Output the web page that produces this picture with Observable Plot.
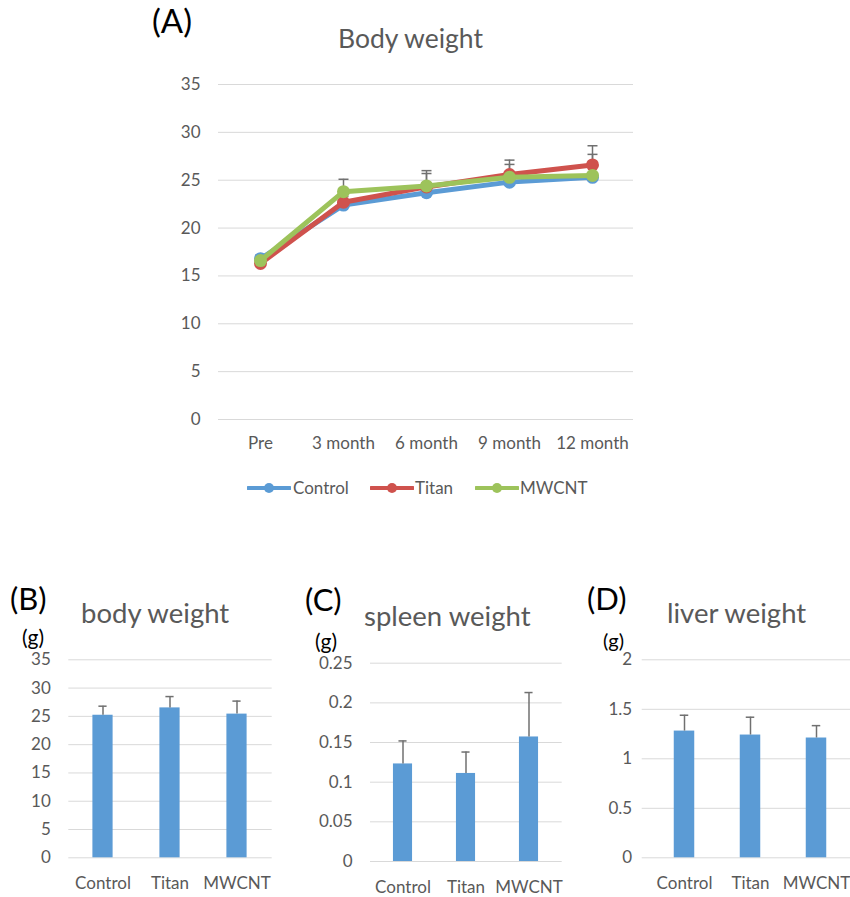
<!DOCTYPE html>
<html><head><meta charset="utf-8">
<script src="https://cdn.jsdelivr.net/npm/d3@7"></script>
<script src="https://cdn.jsdelivr.net/npm/@observablehq/plot@0.6"></script>
<style>
html,body{margin:0;padding:0;background:#fff;overflow:hidden}
#root{position:relative;width:850px;height:897px;font-family:Lato,sans-serif;color:#595959;overflow:hidden}
.abs{position:absolute;white-space:nowrap;line-height:1}
.plot{position:absolute}
</style></head><body><div id="root"></div>
<script>
// ---------- data ----------
const months = ["Pre", "3 month", "6 month", "9 month", "12 month"];
const groups = ["Control", "Titan", "MWCNT"];

// (A) body weight over time (g): mean and upper SD
const controlMean = [16.8, 22.4, 23.7, 24.8, 25.3];
const controlSD   = [0.4, 0.9, 1.0, 1.0, 1.5];
const titanMean   = [16.3, 22.7, 24.3, 25.6, 26.6];
const titanSD     = [0.5, 1.0, 1.7, 1.5, 2.0];
const mwcntMean   = [16.6, 23.8, 24.4, 25.3, 25.5];
const mwcntSD     = [0.4, 1.3, 1.3, 1.35, 2.2];
const yTicksA = [0, 5, 10, 15, 20, 25, 30, 35];

// (B) body weight (g)
const bodyMean = [25.2, 26.5, 25.4];
const bodySD   = [1.6, 2.0, 2.3];
const yTicksB  = [0, 5, 10, 15, 20, 25, 30, 35];

// (C) spleen weight (g)
const spleenMean = [0.123, 0.111, 0.157];
const spleenSD   = [0.029, 0.027, 0.056];
const yTicksC    = [0, 0.05, 0.1, 0.15, 0.2, 0.25];

// (D) liver weight (g)
const liverMean = [1.28, 1.24, 1.21];
const liverSD   = [0.16, 0.18, 0.125];
const yTicksD   = [0, 0.5, 1, 1.5, 2];

// ---------- styles ----------
const seriesColor = {Control: "#5B9BD5", Titan: "#CF524D", MWCNT: "#9DC35B"};
const barColor = "#5B9BD5";
const gridColor = "#D9D9D9";
const errColor = "#707070";
const textColor = "#595959";
const FONT = "Lato, sans-serif";

const root = document.getElementById("root");
function label(str, x, baseline, size, color, weight) {
  const d = document.createElement("div");
  d.className = "abs";
  d.textContent = str;
  d.style.left = x + "px";
  d.style.top = (baseline - 0.887 * size) + "px";
  d.style.fontSize = size + "px";
  d.style.color = color;
  if (weight) d.style.fontWeight = weight;
  root.appendChild(d);
  return d;
}
function mount(svg, left, top) {
  svg.classList.add("plot");
  svg.style.left = left + "px";
  svg.style.top = top + "px";
  root.appendChild(svg);
}
const capSymbol = {draw(ctx, size) { const r = Math.sqrt(size / Math.PI); ctx.moveTo(-r, 0); ctx.lineTo(r, 0); }};
const plotStyle = {fontFamily: FONT, fontSize: "17px", color: textColor, background: "transparent", overflow: "visible"};

// ---------- (A) ----------
const seriesA = [
  {group: "Control", mean: controlMean, sd: controlSD},
  {group: "Titan", mean: titanMean, sd: titanSD},
  {group: "MWCNT", mean: mwcntMean, sd: mwcntSD}
];
const rowsA = seriesA.flatMap(s => months.map((m, i) => ({group: s.group, month: m, mean: s.mean[i], top: s.mean[i] + s.sd[i]})));
const marksA = [Plot.ruleY(yTicksA, {stroke: gridColor, strokeWidth: 1})];
for (const g of groups) {
  const rows = rowsA.filter(d => d.group === g);
  marksA.push(Plot.ruleX(rows, {x: "month", y1: "mean", y2: "top", stroke: errColor, strokeWidth: 1.5}));
  marksA.push(Plot.dot(rows, {x: "month", y: "top", symbol: capSymbol, r: 5, stroke: errColor, strokeWidth: 1.5, fill: "none"}));
}
for (const g of groups) {
  const rows = rowsA.filter(d => d.group === g);
  marksA.push(Plot.line(rows, {x: "month", y: "mean", stroke: seriesColor[g], strokeWidth: 5, strokeLinejoin: "round", strokeLinecap: "round"}));
  marksA.push(Plot.dot(rows, {x: "month", y: "mean", r: 6.5, fill: seriesColor[g], stroke: "none"}));
}
const plotA = Plot.plot({
  width: 520, height: 400,
  marginLeft: 88, marginRight: 17, marginTop: 14, marginBottom: 51,
  x: {type: "point", domain: months, padding: 0.5, label: null, tickSize: 0, tickPadding: 17},
  y: {domain: [0, 35], ticks: yTicksA, tickFormat: d => String(d), label: null, tickSize: 0, tickPadding: 18},
  style: plotStyle,
  marks: marksA
});
mount(plotA, 130, 70);

label("(A)", 152, 33, 33, "#000");
label("Body weight", 338, 48.5, 26.5, textColor);

// legend A
const legendPos = [{x: 247, tx: 293}, {x: 370, tx: 415}, {x: 475, tx: 520}];
groups.forEach((g, i) => {
  const ns = "http://www.w3.org/2000/svg";
  const s = document.createElementNS(ns, "svg");
  s.setAttribute("width", 44); s.setAttribute("height", 14);
  s.style.position = "absolute"; s.style.left = legendPos[i].x + "px"; s.style.top = (488 - 7) + "px";
  const ln = document.createElementNS(ns, "line");
  ln.setAttribute("x1", 1); ln.setAttribute("x2", 43); ln.setAttribute("y1", 7); ln.setAttribute("y2", 7);
  ln.setAttribute("stroke", seriesColor[g]); ln.setAttribute("stroke-width", 4); ln.setAttribute("stroke-linecap", "round");
  const c = document.createElementNS(ns, "circle");
  c.setAttribute("cx", 22); c.setAttribute("cy", 7); c.setAttribute("r", 5); c.setAttribute("fill", seriesColor[g]);
  s.appendChild(ln); s.appendChild(c);
  root.appendChild(s);
  label(g, legendPos[i].tx, 494.5, 17, textColor);
});

// ---------- bar panels ----------
function barPanel({means, sds, ticks, left, top, width, height, mL, mR, mT, mB, range, tickPad, barW}) {
  const rows = groups.map((g, i) => ({group: g, mean: means[i], top: means[i] + sds[i]}));
  const x0 = range ? range[0] : mL, x1 = range ? range[1] : width - mR;
  const step = (x1 - x0) / groups.length;
  const inset = (step - barW) / 2;
  const capInset = (step - 9) / 2;
  const p = Plot.plot({
    width, height, marginLeft: mL, marginRight: mR, marginTop: mT, marginBottom: mB,
    x: {type: "band", domain: groups, padding: 0, range, label: null, tickSize: 0, tickPadding: 19},
    y: {domain: [ticks[0], ticks[ticks.length - 1]], ticks, tickFormat: d => String(d), label: null, tickSize: 0, tickPadding: tickPad},
    style: plotStyle,
    marks: [
      Plot.ruleY(ticks, {stroke: gridColor, strokeWidth: 1}),
      Plot.barY(rows, {x: "group", y: "mean", fill: barColor, insetLeft: inset, insetRight: inset}),
      Plot.ruleX(rows, {x: "group", y1: "mean", y2: "top", stroke: errColor, strokeWidth: 1.5}),
      Plot.tickY(rows, {x: "group", y: "top", stroke: errColor, strokeWidth: 1.5, insetLeft: capInset, insetRight: capInset})
    ]
  });
  mount(p, left, top);
}

// (B)
barPanel({means: bodyMean, sds: bodySD, ticks: yTicksB, left: 0, top: 640, width: 290, height: 257,
  mL: 68.3, mR: 18.3, mT: 19.3, mB: 39.7, tickPad: 18, barW: 21});
label("(B)", 10, 610, 31, "#000");
label("body weight", 81, 623.5, 27.5, textColor);
label("(g)", 22, 645, 21, "#000");

// (C)
barPanel({means: spleenMean, sds: spleenSD, ticks: yTicksC, left: 290, top: 640, width: 290, height: 257,
  mL: 80, mR: 18.3, mT: 22.7, mB: 36, tickPad: 18, barW: 20});
label("(C)", 305, 611.5, 31, "#000");
label("spleen weight", 364, 626.5, 27.5, textColor);
label("(g)", 315, 648.5, 21, "#000");

// (D)
barPanel({means: liverMean, sds: liverSD, ticks: yTicksD, left: 570, top: 640, width: 280, height: 257,
  mL: 71.7, mR: 0, mT: 19.3, mB: 39.7, range: [80.7, 280.2], tickPad: 10, barW: 21});
label("(D)", 587, 610, 31, "#000");
label("liver weight", 667, 623.5, 27.5, textColor);
label("(g)", 603, 648, 20, "#000");
</script>
</body></html>
